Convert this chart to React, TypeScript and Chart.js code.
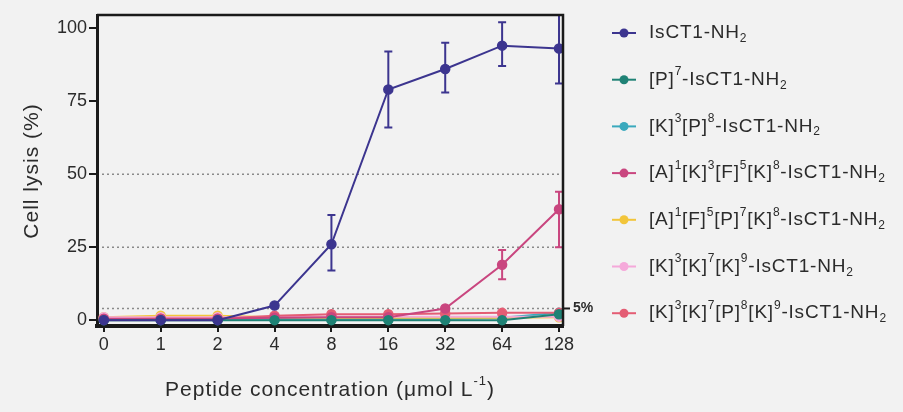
import React, { useEffect, useRef } from "react";
import { Chart, registerables } from "chart.js";

Chart.register(...registerables);

const concentrations = ["0", "1", "2", "4", "8", "16", "32", "64", "128"];
const yTicks = [0, 25, 50, 75, 100];
const refLines = [4, 25, 50];

const seriesNames = [
  "IsCT1-NH_2",
  "[P]^7-IsCT1-NH_2",
  "[K]^3[P]^8-IsCT1-NH_2",
  "[A]^1[K]^3[F]^5[K]^8-IsCT1-NH_2",
  "[A]^1[F]^5[P]^7[K]^8-IsCT1-NH_2",
  "[K]^3[K]^7[K]^9-IsCT1-NH_2",
  "[K]^3[K]^7[P]^8[K]^9-IsCT1-NH_2",
];
const seriesColors = ["#3c358f", "#1f8275", "#3aa9bd", "#c9467f", "#f2c53a", "#f5a9da", "#e45d74"];

const isct1 = [0, 0, 0, 5, 26, 79, 86, 94, 93];
const isct1Low = [null, null, null, null, 17, 66, 78, 87, 81];
const isct1High = [null, null, null, null, 36, 92, 95, 102, 104.5];
const p7 = [0, 0, 0, 0, 0, 0, 0, 0, 2];
const k3p8 = [0.5, 0.5, 0.5, 0.5, 0.5, 0.5, 0.5, 0.8, 2.5];
const a1k3f5k8 = [0.5, 0.5, 0.5, 0.8, 1, 1, 4, 19, 38];
const a1k3f5k8Low = [null, null, null, null, null, null, null, 14, 25];
const a1k3f5k8High = [null, null, null, null, null, null, null, 24, 44];
const a1f5p7k8 = [1, 1.5, 1.5, 1, 0.8, 0.8, 0.8, 0.8, 1];
const k3k7k9 = [1, 1, 1, 1.2, 1.2, 1.2, 1.2, 1.2, 1.2];
const k3k7p8k9 = [0.3, 0.5, 0.5, 1.5, 2, 2, 2.3, 2.5, 2.5];

const seriesValues = [isct1, p7, k3p8, a1k3f5k8, a1f5p7k8, k3k7k9, k3k7p8k9];
const errorBars = [
  { series: 0, low: isct1Low, high: isct1High },
  { series: 3, low: a1k3f5k8Low, high: a1k3f5k8High },
];

const FONT = "'Liberation Sans', Arial, Helvetica, sans-serif";
const TEXT = "#2b2b2b";

function parseRich(s: string) {
  const parts: { t: string; k: "n" | "sup" | "sub" }[] = [];
  let i = 0;
  let buf = "";
  while (i < s.length) {
    const c = s[i];
    if (c === "^" || c === "_") {
      if (buf) parts.push({ t: buf, k: "n" });
      buf = "";
      let j = i + 1;
      let t = "";
      if (s[j] === "-") {
        t += "-";
        j++;
      }
      while (j < s.length && /[0-9]/.test(s[j])) {
        t += s[j];
        j++;
      }
      parts.push({ t, k: c === "^" ? "sup" : "sub" });
      i = j;
    } else {
      buf += c;
      i++;
    }
  }
  if (buf) parts.push({ t: buf, k: "n" });
  return parts;
}

function drawRich(
  ctx: any,
  s: string,
  x: number,
  y: number,
  size: number,
  align: "left" | "center",
  spacing: number
) {
  const parts = parseRich(s);
  const small = Math.round(size * 0.62);
  ctx.letterSpacing = `${spacing}px`;
  let total = 0;
  for (const p of parts) {
    ctx.font = `${p.k === "n" ? size : small}px ${FONT}`;
    total += ctx.measureText(p.t).width;
  }
  let cx = align === "center" ? x - total / 2 : x;
  ctx.textBaseline = "middle";
  ctx.textAlign = "left";
  for (const p of parts) {
    ctx.font = `${p.k === "n" ? size : small}px ${FONT}`;
    const dy = p.k === "sup" ? -size * 0.4 : p.k === "sub" ? size * 0.3 : 0;
    ctx.fillText(p.t, cx, y + dy);
    cx += ctx.measureText(p.t).width;
  }
  ctx.letterSpacing = "0px";
}

const decorPlugin = {
  id: "decor",
  beforeDraw(chart: any) {
    const ctx = chart.ctx;
    ctx.save();
    ctx.fillStyle = "#f2f2f2";
    ctx.fillRect(0, 0, chart.width, chart.height);
    const { left, right } = chart.chartArea;
    const y = chart.scales.y;
    ctx.strokeStyle = "#8a8a8a";
    ctx.lineWidth = 1.5;
    ctx.setLineDash([2, 3]);
    for (const v of refLines) {
      const py = y.getPixelForValue(v);
      ctx.beginPath();
      ctx.moveTo(left, py);
      ctx.lineTo(right, py);
      ctx.stroke();
    }
    ctx.restore();
  },
  afterDatasetsDraw(chart: any) {
    const ctx = chart.ctx;
    const xs = chart.scales.x;
    const ys = chart.scales.y;
    ctx.save();
    ctx.lineWidth = 2;
    for (const eb of errorBars) {
      ctx.strokeStyle = seriesColors[eb.series];
      eb.low.forEach((lo, i) => {
        const hi = eb.high[i];
        if (lo == null || hi == null) return;
        const px = xs.getPixelForValue(i);
        const pLo = ys.getPixelForValue(lo);
        const pHi = Math.max(ys.getPixelForValue(hi), chart.chartArea.top);
        ctx.beginPath();
        ctx.moveTo(px, pLo);
        ctx.lineTo(px, pHi);
        ctx.moveTo(px - 4, pLo);
        ctx.lineTo(px + 4, pLo);
        ctx.moveTo(px - 4, pHi);
        ctx.lineTo(px + 4, pHi);
        ctx.stroke();
      });
    }
    ctx.restore();
  },
  afterDraw(chart: any) {
    const ctx = chart.ctx;
    const { left, right, top, bottom } = chart.chartArea;
    const ys = chart.scales.y;
    ctx.save();
    ctx.strokeStyle = "#1a1a1a";
    ctx.lineWidth = 2.5;
    ctx.beginPath();
    ctx.moveTo(left, top);
    ctx.lineTo(right, top);
    ctx.lineTo(right, bottom);
    ctx.stroke();
    // 5% mark
    const p5 = ys.getPixelForValue(refLines[0]);
    ctx.lineWidth = 2;
    ctx.beginPath();
    ctx.moveTo(right, p5);
    ctx.lineTo(right + 7, p5);
    ctx.stroke();
    ctx.fillStyle = TEXT;
    ctx.font = `bold 14px ${FONT}`;
    ctx.textAlign = "left";
    ctx.textBaseline = "middle";
    ctx.fillText("5%", right + 10, p5);
    // axis titles
    ctx.fillStyle = TEXT;
    drawRich(ctx, "Peptide concentration (μmol L^-1)", (left + right) / 2, 390, 21, "center", 1);
    ctx.save();
    ctx.translate(32, 171);
    ctx.rotate(-Math.PI / 2);
    drawRich(ctx, "Cell lysis (%)", 0, 0, 21, "center", 1);
    ctx.restore();
    // legend
    seriesNames.forEach((name, i) => {
      const ly = 33 + i * 46.7;
      ctx.strokeStyle = seriesColors[i];
      ctx.fillStyle = seriesColors[i];
      ctx.lineWidth = 2;
      ctx.beginPath();
      ctx.moveTo(612, ly);
      ctx.lineTo(636, ly);
      ctx.stroke();
      ctx.beginPath();
      ctx.arc(624, ly, 4.5, 0, Math.PI * 2);
      ctx.fill();
      ctx.fillStyle = TEXT;
      drawRich(ctx, name, 649, ly, 19, "left", 0.8);
    });
    ctx.restore();
  },
};

export default function App() {
  const ref = useRef<HTMLCanvasElement | null>(null);
  useEffect(() => {
    document.body.style.margin = "0";
    document.body.style.background = "#f2f2f2";
    if (!ref.current) return;
    const datasets = seriesValues.map((vals, i) => ({
      label: seriesNames[i],
      data: vals.map((v, j) => ({ x: j, y: v })),
      borderColor: seriesColors[i],
      backgroundColor: seriesColors[i],
      borderWidth: 2,
      pointRadius: 4.5,
      pointBorderWidth: 1.5,
      pointBorderColor: seriesColors[i],
      order: i === 0 ? 0 : i === 1 ? 1 : i === 3 ? 2 : 10 - i,
    }));
    const chart = new Chart(ref.current, {
      type: "line",
      data: { datasets },
      plugins: [decorPlugin],
      options: {
        animation: false,
        responsive: false,
        maintainAspectRatio: false,
        layout: { padding: { top: 15, right: 340, left: 0, bottom: 0 } },
        plugins: { legend: { display: false }, tooltip: { enabled: false } },
        scales: {
          x: {
            type: "linear",
            min: -0.12,
            max: 8.07,
            afterBuildTicks: (s: any) => {
              s.ticks = concentrations.map((_, i) => ({ value: i }));
            },
            afterFit: (s: any) => {
              s.height = 86;
            },
            ticks: {
              callback: (v: any) => concentrations[v],
              font: { size: 18, family: FONT },
              color: TEXT,
              padding: 2,
              maxRotation: 0,
            },
            grid: { drawOnChartArea: false, drawTicks: true, tickLength: 6, lineWidth: 2, color: "#1a1a1a" },
            border: { display: true, width: 4, color: "#1a1a1a" },
          },
          y: {
            type: "linear",
            min: -2,
            max: 104.5,
            afterBuildTicks: (s: any) => {
              s.ticks = yTicks.map((v) => ({ value: v }));
            },
            afterFit: (s: any) => {
              s.width = 97;
            },
            ticks: {
              font: { size: 18, family: FONT },
              color: TEXT,
              padding: 2,
            },
            grid: { drawOnChartArea: false, drawTicks: true, tickLength: 8, lineWidth: 2, color: "#1a1a1a" },
            border: { display: true, width: 3, color: "#1a1a1a" },
          },
        },
      },
    });
    return () => chart.destroy();
  }, []);
  return (
    <div style={{ width: 903, height: 412 }}>
      <canvas ref={ref} width={903} height={412} style={{ display: "block", width: 903, height: 412 }} />
    </div>
  );
}
